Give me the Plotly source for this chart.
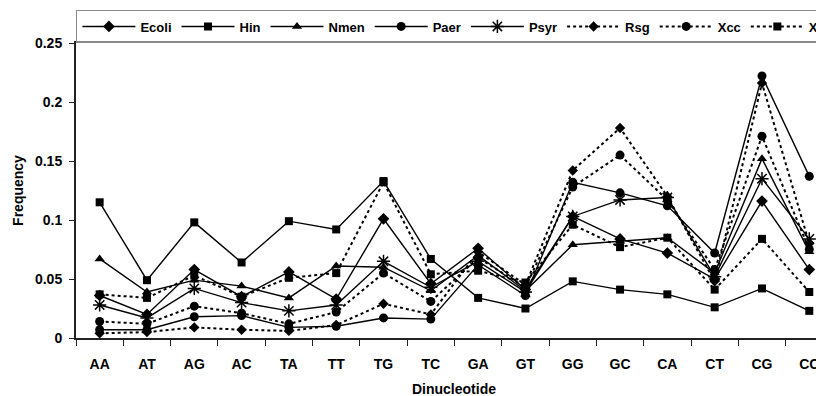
import plotly.graph_objects as go

categories = ["AA", "AT", "AG", "AC", "TA", "TT", "TG", "TC",
              "GA", "GT", "GG", "GC", "CA", "CT", "CG", "CC"]

ecoli = [0.036, 0.020, 0.058, 0.035, 0.056, 0.033, 0.101, 0.046,
         0.076, 0.041, 0.103, 0.084, 0.072, 0.050, 0.116, 0.058]
hin = [0.115, 0.049, 0.098, 0.064, 0.099, 0.092, 0.133, 0.067,
       0.034, 0.025, 0.048, 0.041, 0.037, 0.026, 0.042, 0.023]
nmen = [0.067, 0.039, 0.049, 0.044, 0.034, 0.061, 0.060, 0.040,
        0.070, 0.040, 0.079, 0.082, 0.085, 0.055, 0.152, 0.073]
paer = [0.007, 0.007, 0.018, 0.019, 0.009, 0.010, 0.017, 0.016,
        0.062, 0.036, 0.132, 0.123, 0.112, 0.072, 0.222, 0.137]
psyr = [0.028, 0.017, 0.042, 0.030, 0.023, 0.028, 0.065, 0.043,
        0.065, 0.039, 0.103, 0.117, 0.119, 0.052, 0.135, 0.084]
rsg = [0.004, 0.005, 0.009, 0.007, 0.006, 0.011, 0.029, 0.020,
       0.073, 0.045, 0.142, 0.178, 0.120, 0.048, 0.216, 0.080]
xcc = [0.014, 0.012, 0.027, 0.021, 0.012, 0.022, 0.055, 0.031,
       0.068, 0.043, 0.128, 0.155, 0.117, 0.058, 0.171, 0.075]
xf = [0.037, 0.034, 0.053, 0.035, 0.051, 0.055, 0.132, 0.054,
      0.057, 0.047, 0.096, 0.077, 0.085, 0.041, 0.084, 0.039]

series_names = ["Ecoli", "Hin", "Nmen", "Paer", "Psyr", "Rsg", "Xcc", "Xf"]
series_values = [ecoli, hin, nmen, paer, psyr, rsg, xcc, xf]
series_symbols = ["diamond", "square", "triangle-up", "circle", "asterisk-open",
                  "diamond", "circle", "square"]
series_dash = ["solid", "solid", "solid", "solid", "solid", "dot", "dot", "dot"]
series_msize = [9, 8, 9, 9, 11, 8, 9, 8]

y_ticks = [0, 0.05, 0.1, 0.15, 0.2, 0.25]
y_ticktext = ["0", "0.05", "0.1", "0.15", "0.2", "0.25"]

FONT = "Liberation Sans, Arial, sans-serif"

fig = go.Figure()
for name, vals, sym, dash, ms in zip(series_names, series_values, series_symbols,
                                     series_dash, series_msize):
    fig.add_trace(go.Scatter(
        x=categories, y=vals, name=name, mode="lines+markers",
        line=dict(color="black", width=2 if dash == "dot" else 1.4, dash=dash),
        marker=dict(symbol=sym, size=ms, color="black",
                    line=dict(color="black", width=1.5 if "open" in sym else 0)),
    ))

fig.update_layout(
    width=824, height=396,
    margin=dict(l=68, r=0, t=35, b=66, autoexpand=False),
    paper_bgcolor="white", plot_bgcolor="white",
    font=dict(family=FONT, size=14, color="black", weight="bold"),
    showlegend=True,
    legend=dict(
        orientation="h", x=-0.0001, xanchor="left", y=1.1119, yanchor="top",
        bordercolor="#8a8a8a", borderwidth=1.5, bgcolor="white",
        font=dict(family=FONT, size=13, color="black", weight="bold"),
        itemwidth=53, tracegroupgap=0,
    ),
    xaxis=dict(
        type="category", categoryorder="array", categoryarray=categories,
        range=[-0.5, 15.48], showgrid=False, zeroline=False,
        showline=True, linecolor="#222", linewidth=2, mirror=True,
        ticks="outside", tickson="boundaries", ticklen=6, tickwidth=1.3,
        tickcolor="#222", ticklabelstandoff=12,
        tickfont=dict(family=FONT, size=14, color="black", weight="bold"),
        title=dict(text="Dinucleotide", standoff=13,
                   font=dict(family=FONT, size=14, color="black", weight="bold")),
    ),
    yaxis=dict(
        range=[0, 0.25], tickvals=y_ticks, ticktext=y_ticktext,
        showgrid=False, zeroline=False, showline=True, linecolor="#222",
        linewidth=2, ticks="outside", ticklen=5, tickwidth=1.3, tickcolor="#222",
        ticklabelstandoff=4,
        tickfont=dict(family=FONT, size=14, color="black", weight="bold"),
        title=dict(text="Frequency", standoff=8,
                   font=dict(family=FONT, size=14, color="black", weight="bold")),
    ),
)

fig.write_html("out.html")
